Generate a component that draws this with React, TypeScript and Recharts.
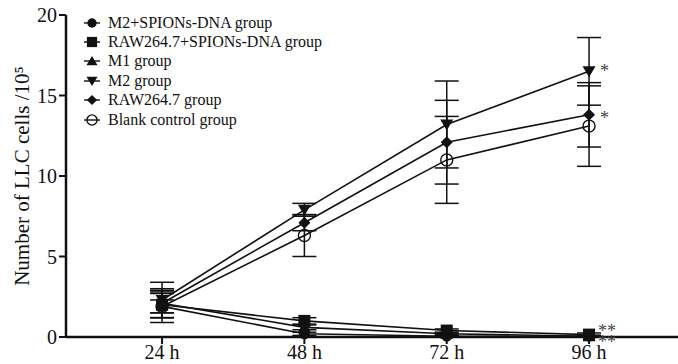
import { ErrorBar, LabelList, Line, LineChart, XAxis, YAxis } from "recharts";

const hours = [24, 48, 72, 96];
const tickLabels = ["24 h", "48 h", "72 h", "96 h"];
const yTicks = [0, 5, 10, 15, 20];

const m2SpionsVals = [1.9, 0.2, 0.05, 0.05];
const m2SpionsErr = [0.4, 0.1, 0.05, 0.05];
const rawSpionsVals = [2.0, 1.0, 0.4, 0.15];
const rawSpionsErr = [0.8, 0.2, 0.1, 0.1];
const m1Vals = [2.1, 0.6, 0.2, 0.05];
const m1Err = [0.6, 0.15, 0.05, 0.05];
const m2Vals = [2.3, 7.9, 13.2, 16.5];
const m2Err = [1.1, 0.4, 2.7, 2.1];
const rawVals = [2.1, 7.1, 12.1, 13.8];
const rawErr = [0.9, 0.5, 2.6, 2.0];
const blankVals = [1.9, 6.3, 11.0, 13.1];
const blankErr = [1.0, 1.3, 2.7, 2.5];

// significance marks at 96 h
const sigMarks: Record<string, string> = { m2: "*", raw: "*", rawSpions: "**", m1: "**" };
const sigShift: Record<string, number> = { m2: 6, raw: 9, rawSpions: 2.5, m1: 11.5 };

const series = [
  { key: "m2Spions", name: "M2+SPIONs-DNA group", shape: "circle", vals: m2SpionsVals, err: m2SpionsErr },
  { key: "rawSpions", name: "RAW264.7+SPIONs-DNA group", shape: "square", vals: rawSpionsVals, err: rawSpionsErr },
  { key: "m1", name: "M1 group", shape: "up", vals: m1Vals, err: m1Err },
  { key: "m2", name: "M2 group", shape: "down", vals: m2Vals, err: m2Err },
  { key: "raw", name: "RAW264.7 group", shape: "diamond", vals: rawVals, err: rawErr },
  { key: "blank", name: "Blank control group", shape: "open", vals: blankVals, err: blankErr },
];

const data = hours.map((h, i) => {
  const row: Record<string, number> = { h };
  series.forEach((s) => {
    row[s.key] = s.vals[i];
    row[s.key + "Err"] = s.err[i];
  });
  return row;
});

const FONT = "'Liberation Serif', 'DejaVu Serif', serif";

function Marker({ shape, cx, cy, k = 1 }: { shape: string; cx: number; cy: number; k?: number }) {
  if (cx == null || cy == null) return null;
  switch (shape) {
    case "circle":
      return <circle cx={cx} cy={cy} r={5.5 * k} fill="#111" />;
    case "square":
      return <rect x={cx - 6 * k} y={cy - 6 * k} width={12 * k} height={12 * k} fill="#111" />;
    case "up":
      return <polygon points={`${cx},${cy - 6 * k} ${cx - 6.5 * k},${cy + 5 * k} ${cx + 6.5 * k},${cy + 5 * k}`} fill="#111" />;
    case "down":
      return <polygon points={`${cx},${cy + 6 * k} ${cx - 6.5 * k},${cy - 5 * k} ${cx + 6.5 * k},${cy - 5 * k}`} fill="#111" />;
    case "diamond":
      return <polygon points={`${cx},${cy - 6 * k} ${cx + 6 * k},${cy} ${cx},${cy + 6 * k} ${cx - 6 * k},${cy}`} fill="#111" />;
    default:
      return <circle cx={cx} cy={cy} r={6 * k} fill="none" stroke="#111" strokeWidth={1.4} />;
  }
}

function Legend() {
  return (
    <div style={{ position: "absolute", left: 82, top: 13, fontFamily: FONT, fontSize: 16, color: "#111", lineHeight: 1 }}>
      {series.map((s) => (
        <div key={s.key} style={{ display: "flex", alignItems: "center", height: 19.4 }}>
          <svg width={20} height={16} style={{ marginRight: 6 }}>
            <line x1={2} x2={18} y1={8} y2={8} stroke="#111" strokeWidth={1.4} />
            <Marker shape={s.shape} cx={10} cy={8} k={0.85} />
          </svg>
          <span>{s.name}</span>
        </div>
      ))}
    </div>
  );
}

export default function App() {
  return (
    <div style={{ position: "absolute", left: 0, top: 0, width: 678, height: 364, background: "#fff" }}>
      <LineChart width={678} height={364} data={data} margin={{ top: 15, right: 0, bottom: 2, left: 8 }}>
        <XAxis
          dataKey="h"
          type="number"
          domain={[7.8, 111]}
          ticks={hours}
          tickFormatter={(v: number) => tickLabels[hours.indexOf(v)]}
          axisLine={{ stroke: "#111", strokeWidth: 2.5 }}
          tickLine={{ stroke: "#111", strokeWidth: 2 }}
          tickSize={7}
          tickMargin={1}
          height={25}
          tick={{ fill: "#111", fontSize: 20, fontFamily: FONT }}
        />
        <YAxis
          domain={[0, 20]}
          ticks={yTicks}
          width={58}
          axisLine={{ stroke: "#111", strokeWidth: 2.5 }}
          tickLine={{ stroke: "#111", strokeWidth: 2 }}
          tickSize={7}
          tickMargin={2}
          tick={{ fill: "#111", fontSize: 20, fontFamily: FONT }}
          label={{
            value: "Number of LLC cells /10⁵",
            angle: -90,
            position: "insideLeft",
            offset: 14,
            style: { textAnchor: "middle", fill: "#111", fontSize: 21, fontFamily: FONT },
          }}
        />
        {series.map((s) => (
          <Line
            key={s.key}
            dataKey={s.key}
            name={s.name}
            stroke="#111"
            strokeWidth={1.6}
            isAnimationActive={false}
            dot={(p: any) => <Marker key={`${s.key}-${p.index}`} shape={s.shape} cx={p.cx} cy={p.cy} />}
            activeDot={false}
          >
            <ErrorBar dataKey={s.key + "Err"} width={12} stroke="#111" strokeWidth={1.5} direction="y" />
            {sigMarks[s.key] ? (
              <LabelList
                dataKey={s.key}
                content={(p: any) =>
                  p.index === hours.length - 1 ? (
                    <text
                      x={p.x + (sigMarks[s.key] === "*" ? 11 : 9)}
                      y={p.y + sigShift[s.key]}
                      fontSize={18}
                      fontFamily={FONT}
                      fill="#444"
                    >
                      {sigMarks[s.key]}
                    </text>
                  ) : null
                }
              />
            ) : null}
          </Line>
        ))}
      </LineChart>
      <Legend />
    </div>
  );
}
